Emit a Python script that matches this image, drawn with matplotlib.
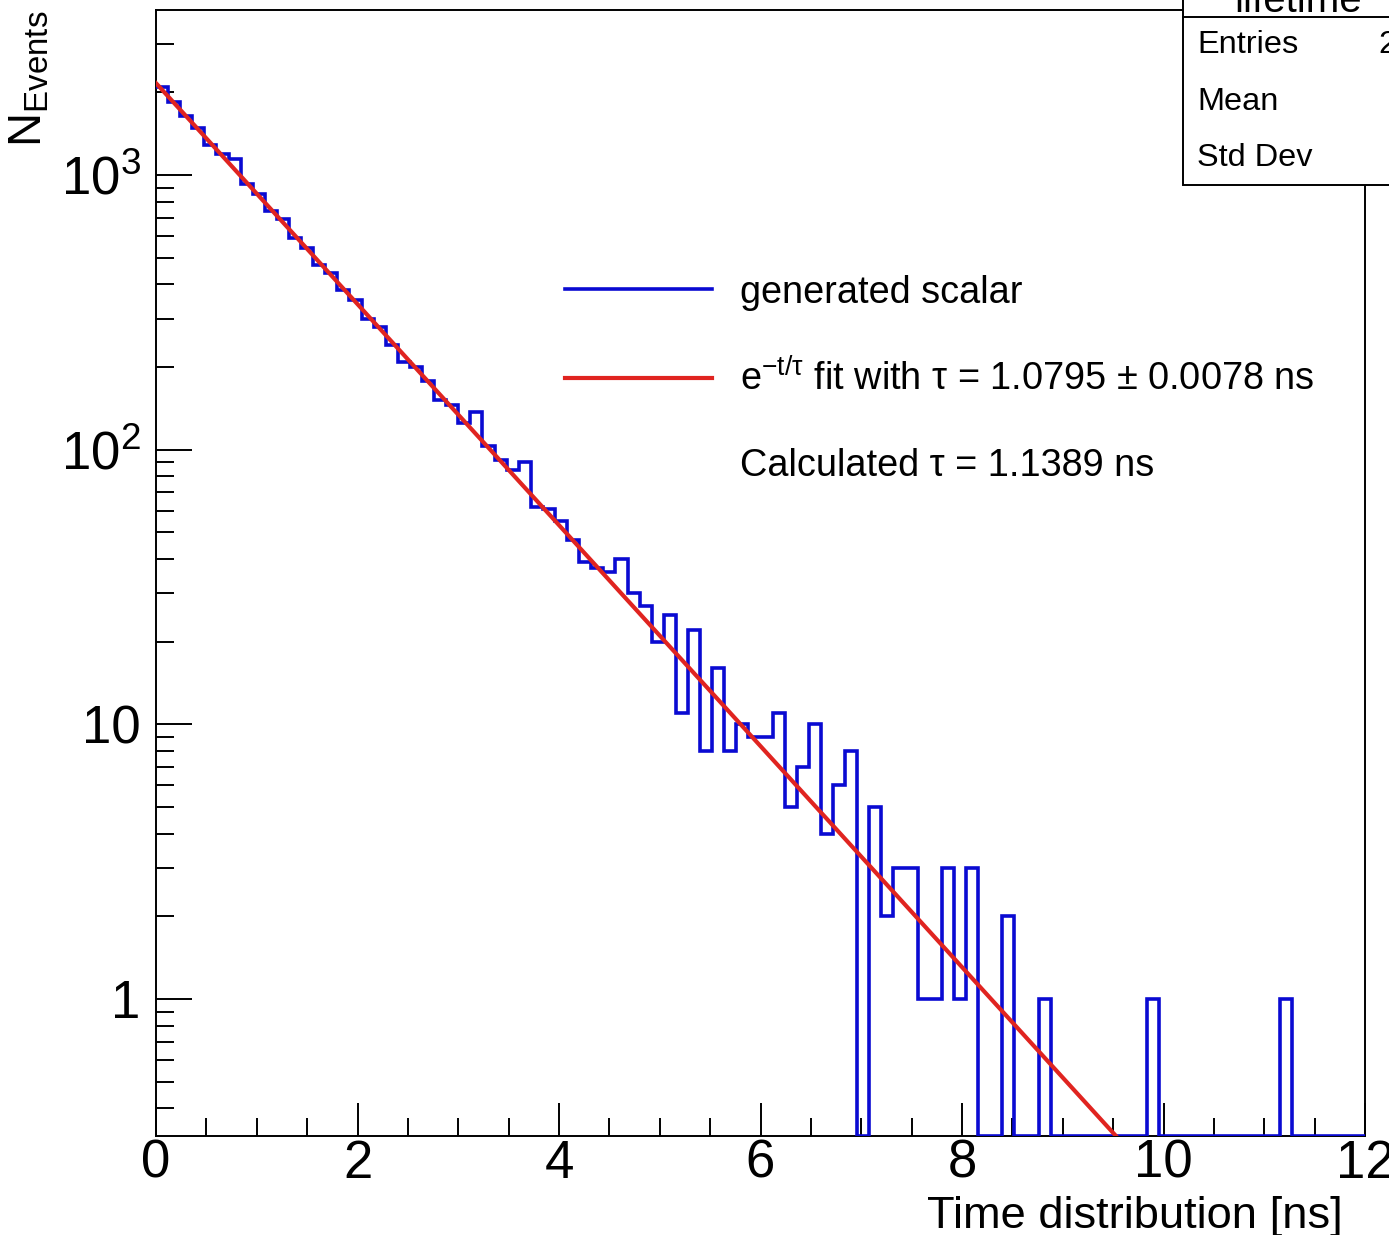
import numpy as np
import matplotlib
matplotlib.use('Agg')
import matplotlib.pyplot as plt
from matplotlib.lines import Line2D
from matplotlib.patches import Rectangle
from matplotlib.ticker import MultipleLocator, FixedLocator, FixedFormatter, LogLocator, NullFormatter

plt.rcParams['font.family'] = ['Liberation Sans', 'DejaVu Sans']
plt.rcParams['mathtext.fontset'] = 'custom'
plt.rcParams['mathtext.rm'] = 'Liberation Sans'
plt.rcParams['mathtext.it'] = 'Liberation Sans:italic'

# histogram: 100 bins from 0 to 12 ns
X_MIN, X_MAX, N_BINS = 0.0, 12.0, 100
counts = [
    2100, 1850, 1640, 1480, 1290, 1190, 1140, 930, 850, 740,
    690, 590, 540, 470, 440, 380, 350, 300, 280, 240,
    208, 200, 178, 152, 145, 125, 137, 103, 92, 84,
    90, 62, 61, 55, 47, 39, 37, 36, 40, 30,
    27, 20, 25, 11, 22, 8, 16, 8, 10, 9,
    9, 11, 5, 7, 10, 4, 6, 8, 0, 5,
    2, 3, 3, 1, 1, 3, 1, 3, 0, 0,
    2, 0, 0, 1, 0, 0, 0, 0, 0, 0,
    0, 0, 1, 0, 0, 0, 0, 0, 0, 0,
    0, 0, 0, 1, 0, 0, 0, 0, 0, 0,
]

# exponential fit parameters
FIT_NORM = 2160.0
FIT_TAU = 1.0795

Y_MIN, Y_MAX = 0.317, 3988.0

legend_labels = [
    'generated scalar',
    r'e$^{\mathregular{-t/τ}}$ fit with τ = 1.0795 ± 0.0078 ns',
    'Calculated τ = 1.1389 ns',
]
stat_names = ['Entries', 'Mean', 'Std Dev']
STAT_ENTRIES = '20000'

BLUE = '#0a0ad2'
RED = '#e02420'

W, H = 1389, 1235
fig = plt.figure(figsize=(W / 100, H / 100), dpi=100)
ax = fig.add_axes([156 / W, 1 - 1136 / H, 1209 / W, 1126 / H])

edges = np.linspace(X_MIN, X_MAX, N_BINS + 1)
shown = np.clip(np.array(counts, dtype=float), Y_MIN, None)
ax.stairs(shown, edges, baseline=None, color=BLUE, lw=2.6, zorder=3)

t = np.linspace(X_MIN, X_MAX, 600)
ax.plot(t, FIT_NORM * np.exp(-t / FIT_TAU), color=RED, lw=3.0, zorder=4)

ax.set_yscale('log')
ax.set_xlim(X_MIN, X_MAX)
ax.set_ylim(Y_MIN, Y_MAX)

ax.xaxis.set_major_locator(MultipleLocator(2))
ax.xaxis.set_minor_locator(MultipleLocator(0.5))
ax.yaxis.set_major_locator(FixedLocator([1, 10, 100, 1000]))
ax.yaxis.set_major_formatter(FixedFormatter(['1', '10', r'$\mathregular{10^{2}}$', r'$\mathregular{10^{3}}$']))
ax.yaxis.set_minor_locator(LogLocator(subs=range(2, 10)))
ax.yaxis.set_minor_formatter(NullFormatter())

ax.tick_params(which='both', direction='in', width=1.4, top=False, right=False, labelsize=38)
ax.tick_params(axis='x', which='major', length=24, pad=2)
ax.tick_params(axis='x', which='minor', length=13)
ax.tick_params(axis='y', which='major', length=26, pad=11)
ax.tick_params(axis='y', which='minor', length=13)
for s in ax.spines.values():
    s.set_linewidth(1.4)

handles = [Line2D([], [], color=BLUE, lw=2.6),
           Line2D([], [], color=RED, lw=3.0),
           Line2D([], [], color='none')]
ax.legend(handles, legend_labels, loc='upper left', bbox_to_anchor=(0.338, 0.765),
          frameon=False, fontsize=27.3, handlelength=3.88, handletextpad=0.74,
          labelspacing=1.3, borderpad=0, borderaxespad=0)

# axis titles
fig.text(1343 / W, 1 - 1228 / H, 'Time distribution [ns]', ha='right', va='baseline', fontsize=32.6)
fig.text(30 / W, 1 - 10 / H, r'N$_{\mathregular{Events}}$', rotation=90, ha='center', va='top', fontsize=34)

# stats box (cut off by the canvas edge, as in the original)
fig.add_artist(Rectangle((1183 / W, 1 - 185 / H), 0.3, 0.3, transform=fig.transFigure,
                         facecolor='white', edgecolor='black', lw=1.4, zorder=5))
fig.add_artist(Line2D([1183 / W, 1.0], [1 - 17 / H] * 2, transform=fig.transFigure,
                      color='black', lw=1.4, zorder=6))
fig.text(1298 / W, 1 - 12 / H, 'lifetime', ha='center', va='baseline', fontsize=29, zorder=7)
for name, y in zip(stat_names, [45, 102, 158]):
    fig.text(1197 / W, 1 - y / H, name, ha='left', va='center', fontsize=23.4, zorder=7)
fig.text(1378 / W, 1 - 45 / H, STAT_ENTRIES, ha='left', va='center', fontsize=23.4, zorder=7)

fig.savefig('out.png', dpi=100)
